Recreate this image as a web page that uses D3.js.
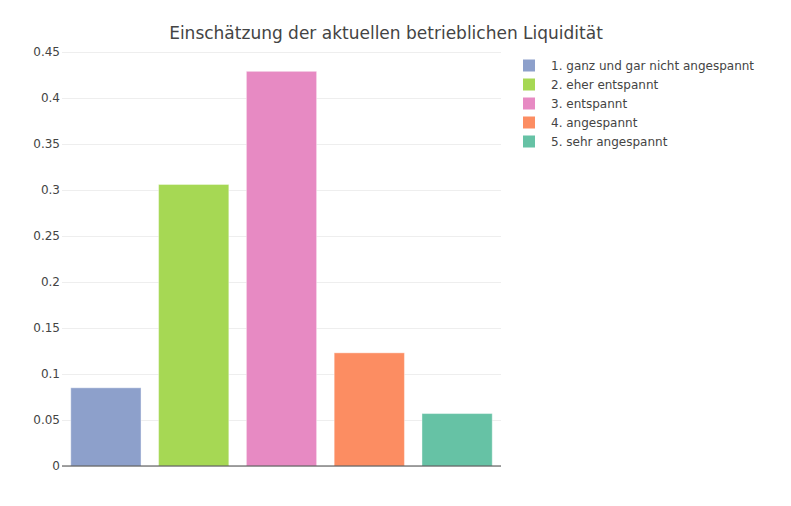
<!DOCTYPE html>
<html lang="de">
  <head>
    <meta charset="UTF-8" />
    <title>Einschätzung der aktuellen betrieblichen Liquidität</title>
    <script src="https://cdn.jsdelivr.net/npm/d3@7"></script>
    <style>
      body { margin: 0; background: #fff; }
      svg text { font-family: "DejaVu Sans", Verdana, sans-serif; fill: #444; }
    </style>
  </head>
  <body>
    <svg id="chart"></svg>
    <script>
      // Antwortkategorien und Anteile
      const categories = [
        "1. ganz und gar nicht angespannt",
        "2. eher entspannt",
        "3. entspannt",
        "4. angespannt",
        "5. sehr angespannt",
      ];
      const shares = [0.085, 0.306, 0.429, 0.123, 0.057];
      const yTicks = [0, 0.05, 0.1, 0.15, 0.2, 0.25, 0.3, 0.35, 0.4, 0.45];
      const colors = ["#8da0cb", "#a6d854", "#e78ac3", "#fc8d62", "#66c2a5"];

      const width = 791,
        height = 506;
      const margin = { top: 52, right: 290, bottom: 40, left: 62 };

      const svg = d3.select("#chart").attr("width", width).attr("height", height);

      const x = d3
        .scaleBand()
        .domain(categories)
        .range([margin.left, width - margin.right])
        .paddingInner(0.2)
        .paddingOuter(0.1);

      const y = d3
        .scaleLinear()
        .domain([0, 0.45])
        .range([height - margin.bottom, margin.top]);

      // Gitterlinien + y-Achse
      const yAxis = d3
        .axisLeft(y)
        .tickValues(yTicks)
        .tickFormat((d) => d3.format("")(+d.toFixed(2)))
        .tickSize(-(width - margin.right - margin.left))
        .tickPadding(2);

      svg
        .append("g")
        .attr("transform", `translate(${margin.left},0)`)
        .call(yAxis)
        .call((g) => g.select(".domain").remove())
        .call((g) => g.selectAll(".tick line").attr("stroke", "#eee"))
        .call((g) =>
          g.selectAll(".tick text").attr("font-size", 12).attr("fill", "#444")
        );

      svg
        .append("g")
        .selectAll("rect")
        .data(categories)
        .join("rect")
        .attr("x", (d) => x(d))
        .attr("width", x.bandwidth())
        .attr("y", (d, i) => y(shares[i]))
        .attr("height", (d, i) => y(0) - y(shares[i]))
        .attr("fill", (d, i) => colors[i])
        .attr("stroke", "#fff")
        .attr("stroke-opacity", 0.4)
        .attr("stroke-width", 1);

      // Nulllinie
      svg
        .append("line")
        .attr("x1", margin.left)
        .attr("x2", width - margin.right)
        .attr("y1", y(0))
        .attr("y2", y(0))
        .attr("stroke", "#444")
        .attr("stroke-width", 1);

      svg
        .append("text")
        .attr("x", 386)
        .attr("y", 39)
        .attr("text-anchor", "middle")
        .attr("font-size", 17)
        .text("Einschätzung der aktuellen betrieblichen Liquidität");

      // Legende
      const legend = svg
        .append("g")
        .selectAll("g")
        .data(categories)
        .join("g")
        .attr("transform", (d, i) => `translate(523,${65.5 + i * 19})`);

      legend
        .append("rect")
        .attr("x", 0)
        .attr("y", -6)
        .attr("width", 12)
        .attr("height", 12)
        .attr("fill", (d, i) => colors[i]);

      legend
        .append("text")
        .attr("x", 28)
        .attr("dy", "0.35em")
        .attr("font-size", 12)
        .text((d) => d);
    </script>
  </body>
</html>
